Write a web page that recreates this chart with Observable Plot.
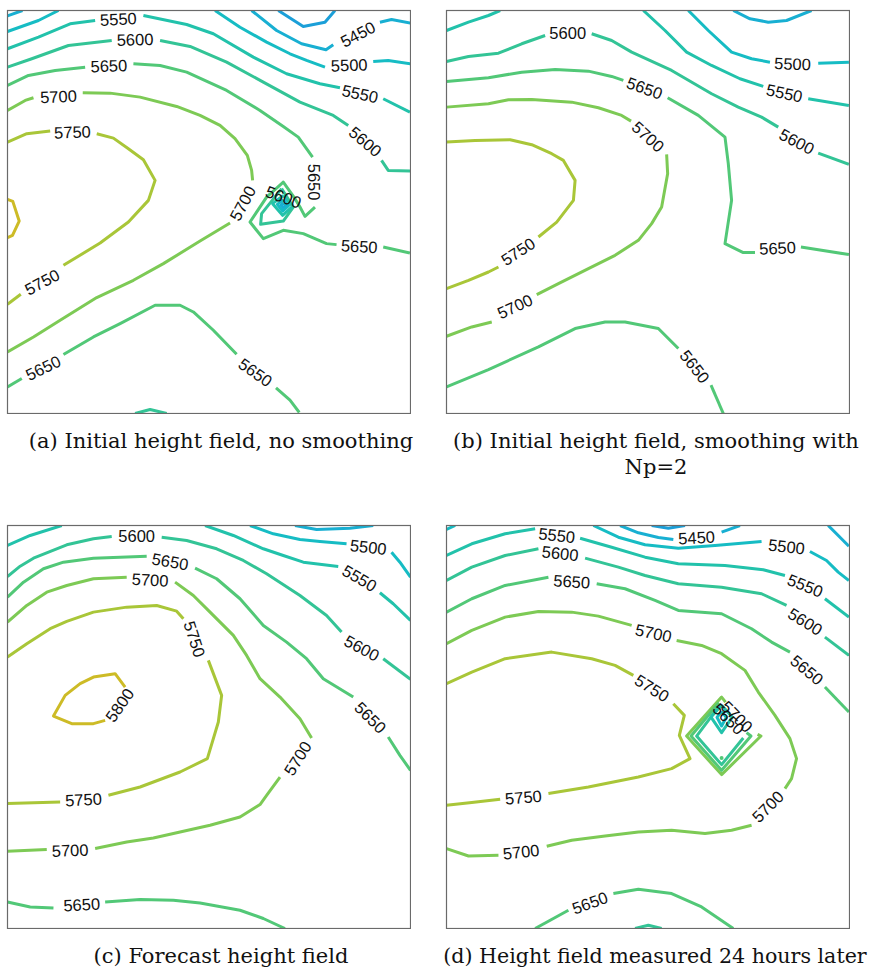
<!DOCTYPE html>
<html>
<head>
<meta charset="utf-8">
<script src="https://cdn.jsdelivr.net/npm/d3@7"></script>
<script src="https://cdn.jsdelivr.net/npm/@observablehq/plot@0.6"></script>
<style>
  html, body { margin: 0; padding: 0; background: #fff; }
  #root { position: relative; width: 875px; height: 968px; overflow: hidden; }
  .panel { position: absolute; }
  .cap { position: absolute; width: 440px; text-align: center; font-family: "DejaVu Serif", serif;
         font-size: 21px; line-height: 26px; color: #111; white-space: nowrap; }
  .cap.narrow { font-size: 20.6px; }
</style>
</head>
<body>
<div id="root"></div>
<script>
// Contour levels and their colours
const levels = [5400, 5450, 5500, 5550, 5600, 5650, 5700, 5750, 5800];
const levelColors = ["#1b9fd8", "#18afd2", "#16bcc4", "#22c2ab", "#33c496", "#52c877", "#7dca55", "#a9c638", "#cdbb26"];

// Panel (a): contour segments [level, [[x, y], ...]] in grid units (0..403, y downward)
const linesA = [
  [5400, [[271,0],[296,16],[317.7,11.7],[327.7,0]]],
  [5450, [[0,5.3],[15,0]]],
  [5450, [[244.3,0],[269.3,20],[294.3,33.3],[318.7,39.3],[326,34.3]]],
  [5450, [[372.7,11.7],[384.3,9],[403.3,12.7]]],
  [5500, [[0,21],[31,10],[51,0]]],
  [5500, [[207.7,0],[232.7,16.7],[259.3,31.7],[282.7,43.3],[299.3,50],[317.7,56.7]]],
  [5500, [[366,51],[381,50],[403.3,53.3]]],
  [5550, [[0,38.3],[31,26.7],[62.7,13.3],[87.7,10]]],
  [5550, [[136,5],[179.3,14],[206,23.3],[246,46.7],[279.3,63.3],[312.7,73.3],[332.7,77.3]]],
  [5550, [[376,88.3],[402.7,101.7]]],
  [5600, [[0,56.7],[24.3,48.3],[61,35],[104.3,30]]],
  [5600, [[152.7,30],[182.7,36],[219.3,51.7],[256,71.7],[292.7,91.7],[326,105],[341,115]]],
  [5600, [[374.3,150],[381,160],[403.3,160.7]]],
  [5650, [[0,75],[21,65],[47.7,60],[77.7,56.7]]],
  [5650, [[126,53.3],[152.7,55],[179.3,61.7],[219.3,80],[252.7,100],[276,116],[291,126.7],[305.3,146.7]]],
  [5650, [[307.7,196.7],[297.7,206],[292.7,196.7],[287.7,188.3],[276,171.7],[259.3,186.7],[242.7,211.7],[256,228.3],[276,220],[296,223.3],[319.3,233.3],[329.3,234.3]]],
  [5650, [[376,236.7],[402.7,242.7]]],
  [5600, [[274.3,178.3],[254.3,203.3],[253.3,214],[276,210.7],[286,196.7],[274.3,178.3]]],
  [5550, [[276,185],[265.3,193.3],[275.3,205],[285.3,196],[276,185]]],
  [5500, [[276,189.3],[270,194],[275.3,200.7],[281.3,195.3],[276,189.3]]],
  [5450, [[276,192.3],[273.7,194.7],[275.7,197.3],[278.3,195],[276,192.3]]],
  [5700, [[0,100],[17.7,90],[26,87.3]]],
  [5700, [[75.3,82.3],[102.7,82.7],[132.7,86.7],[169.3,96],[192.7,105],[212.7,115],[227.7,128.3],[240,145],[244.3,160],[245.3,170]]],
  [5700, [[222.7,212.7],[192.7,230.7],[156,253.3],[126,270],[89.3,287.3],[52.7,310],[26,326.7],[0,341.7]]],
  [5750, [[0,131.7],[19.3,123.3],[42.7,120.7]]],
  [5750, [[89.3,123.3],[106,127.7],[121,138.3],[136,149.3],[147.7,170],[141,190],[121,211.7],[92.7,232.7],[56,255]]],
  [5750, [[13.3,284],[0,294]]],
  [5800, [[0,189],[5.3,191],[11.7,210.7],[5,225],[0,227.3]]],
  [5650, [[0,376.7],[14.3,368.3]]],
  [5650, [[56,344.3],[86,326.7],[112.7,313.3],[147.7,295],[172.7,295],[186,301.7],[206,320],[229.3,344]]],
  [5650, [[268.7,377.7],[282.7,390],[292,402.3]]],
  [5600, [[127.7,403.3],[142.7,399.3],[159.3,403.3]]]
];
// Panel (a): labels [level, x, y, angle]
const labelsA = [
  [5450, 351, 24.3, -28], [5500, 342, 55.3, -2], [5550, 111, 9.3, -3], [5550, 352.7, 84, 12],
  [5600, 127.7, 29.7, -2], [5600, 357.7, 131.7, 40], [5650, 101.5, 56, -2], [5650, 306, 171.7, 90],
  [5650, 352, 236.7, 3], [5700, 51, 86.7, -3], [5700, 236, 193.3, -62], [5750, 65, 122.3, -2],
  [5750, 35, 272.3, -28], [5650, 36, 358.3, -26], [5650, 247.7, 362.7, 35], [5600, 276, 187.3, 20]
];

// Panel (b)
const linesB = [
  [5450, [[287,0],[303.7,8.3],[322,11.7],[340.3,10],[365.3,0]]],
  [5500, [[242,0],[262,20],[285.3,41.7],[305.3,48.3],[323.7,51.7]]],
  [5500, [[372,52.7],[402.7,51.7]]],
  [5550, [[0,20],[22,11.7],[42,5],[53.7,0]]],
  [5550, [[197,0],[218.7,20],[240.3,41.7],[265.3,55],[293.7,68.3],[317,76]]],
  [5550, [[362,88.3],[402.7,95]]],
  [5600, [[0,51],[22,46],[52,42.7],[75.3,33.3],[98.7,25]]],
  [5600, [[145.3,23.3],[165.3,30],[185.3,41.7],[225.3,60],[265.3,83.3],[292,96.7],[315.3,106.7],[332,116.7]]],
  [5600, [[372,142.7],[402.7,154]]],
  [5650, [[0,71],[42,67.3],[75.3,61.7],[108.7,59],[142,60.7],[165.3,66],[177,70]]],
  [5650, [[221.3,87.3],[252,105],[278.7,126.7],[282,153.3],[285.3,190],[278.7,233.3],[297,242.3],[308.7,242.3]]],
  [5650, [[354.7,236.7],[375.3,240],[402.7,244.3]]],
  [5700, [[0,96.7],[42,93.3],[62,89.3],[85.3,89],[125.3,91.7],[152,97.3],[175.3,105],[184.7,110.7]]],
  [5700, [[220.3,144],[221.3,163.3],[215.3,196.7],[205.3,213.3],[192,230],[168.7,245],[142,258.3],[112,273.3],[90.3,284.3]]],
  [5700, [[45.3,311.7],[25.3,316.7],[0,326]]],
  [5750, [[0,131.7],[28.7,130],[63.7,129.3],[85.3,134.3],[105.3,143.3],[117,150],[128.7,170],[127,190],[110.3,211.7],[92,226.7]]],
  [5750, [[52,256.7],[42,261.7],[22,270],[0,278.3]]],
  [5650, [[0,376.7],[42,359.3],[92,336.7],[128.7,318.3],[158.7,311.7],[178.7,311.7],[212,318.3],[232,338.3]]],
  [5650, [[264.7,375],[277,403.3]]]
];
const labelsB = [
  [5500, 346.3, 54, 2], [5550, 338, 83.3, 12], [5600, 121.3, 23.3, 0], [5600, 350.3, 131.7, 28],
  [5650, 198, 78.3, 20], [5650, 331.3, 238.3, -3], [5700, 201.3, 126.7, 42], [5700, 68.7, 296.7, -25],
  [5750, 72, 241.7, -33], [5650, 248, 356.7, 52]
];

// Panel (c)
const linesC = [
  [5450, [[287.7,0],[309.3,4],[342.7,2.7],[366,0]]],
  [5500, [[242.7,0],[266,8.3],[292.7,14],[312.7,16],[339.3,18.3]]],
  [5500, [[384.3,26.7],[392.7,36.7],[403.3,51.7]]],
  [5550, [[0,20],[22.7,10],[54.3,0]]],
  [5550, [[197.7,0],[226,10],[256,23.3],[276,30],[296,36.7],[331,41]]],
  [5550, [[372.7,67.3],[386,78.3],[403.3,95]]],
  [5600, [[0,51],[12.7,40.7],[26,32.7],[59.3,19.3],[86,13.3],[104.3,11]]],
  [5600, [[154.3,11.7],[179.3,15],[209.3,23.3],[236,35],[259.3,48.3],[292.7,70],[319.3,90],[334.3,106.7]]],
  [5600, [[376,133.3],[403.3,154]]],
  [5650, [[0,71.7],[16,56.7],[36,43.3],[56,36.7],[86,32.7],[139.3,30.7]]],
  [5650, [[187.7,42.7],[209.3,53.3],[232.7,73.3],[256,100],[279.3,116.7],[299.3,133.3],[316,153.3],[346,171.7]]],
  [5650, [[381,211.7],[392.7,230],[403.3,245]]],
  [5700, [[0,96.7],[19.3,80],[39.3,66.7],[59.3,60],[86,53.3],[119.3,51.7]]],
  [5700, [[167.7,56.7],[186,70],[202.7,86.7],[226,110],[239.3,130],[252.7,153.3],[272.7,171.7],[292.7,193.3],[304.3,212.7]]],
  [5700, [[272.7,251.7],[259.3,270],[252.7,279.3],[232.7,291.7],[202.7,300],[172.7,306.7],[146,312.7],[119.3,316.7],[87.7,323.3]]],
  [5700, [[39.3,324.3],[0,326]]],
  [5750, [[0,131.7],[19.3,118.3],[42.7,103.3],[59.3,96],[86,86.7],[119.3,81.7],[149.3,80],[169.3,85.7],[176,93.3]]],
  [5750, [[201,135],[214.3,170],[211,196.7],[200,233.3],[172.7,246.7],[132.7,261.7],[101,270]]],
  [5750, [[52.7,276.7],[0,278.3]]],
  [5800, [[117.7,161.7],[107.7,148.3],[86,151.7],[72.7,158.3],[57.7,170],[46,190.7],[64.3,198.3],[86,198.3],[97.7,195]]],
  [5650, [[0,376.7],[22.7,381.7],[46,382.7]]],
  [5650, [[97.7,376.7],[132.7,374.3],[166,375],[192.7,377.7],[232.7,385],[256,393.3],[277.7,403.3]]]
];
const labelsC = [
  [5500, 361, 22.3, 6], [5550, 352, 53.3, 30], [5600, 129.3, 11.7, 0], [5600, 354.3, 123.3, 28],
  [5650, 162.7, 36.7, 10], [5650, 362.7, 192.7, 45], [5700, 142.7, 55, 3], [5700, 291, 233.3, -58],
  [5700, 62.7, 325.7, -2], [5750, 186.7, 114, 72], [5750, 76, 275, -3], [5800, 112.7, 180, -55],
  [5650, 74.3, 380, -3]
];

// Panel (d)
const linesD = [
  [5400, [[205.3,0],[222,2.7],[238.7,0]]],
  [5450, [[173.7,0],[192,7.3],[212,12],[227,14]]],
  [5450, [[275.3,6.7],[293.7,0]]],
  [5450, [[382,0],[402.7,20.7]]],
  [5500, [[0,4],[8.7,0]]],
  [5500, [[147,0],[172,11.7],[198.7,19.3],[232,22.7],[268.7,20],[315.3,16]]],
  [5500, [[363.7,26],[380.3,35],[392,46.7],[402.7,55]]],
  [5550, [[0,30],[25.3,18.3],[58.7,8.3],[88.7,3.3]]],
  [5550, [[133.7,12.7],[165.3,21.7],[198.7,31.7],[232,38.3],[278.7,40],[317,44.3],[338.7,50]]],
  [5550, [[378.7,73.3],[402.7,91.7]]],
  [5600, [[0,55],[25.3,41.7],[58.7,30],[92,23.3]]],
  [5600, [[138.7,32.7],[172,41.7],[198.7,50],[232,58.3],[275.3,61.7],[315.3,68.3],[340.3,80]]],
  [5600, [[378.7,111.7],[402.7,130]]],
  [5650, [[0,86.7],[25.3,73.3],[58.7,60],[102,51.7]]],
  [5650, [[150.3,58.3],[178.7,63.3],[208.7,75],[232,85],[275.3,88.3],[305.3,103.3],[325.3,116.7],[343.7,126.7]]],
  [5650, [[378.7,161.7],[402.7,186.7]]],
  [5700, [[0,118.3],[25.3,105],[58.7,91.7],[92,86],[125.3,86.7],[152,90.7],[185.3,100]]],
  [5700, [[230.3,115],[255.3,120],[275.3,128.3],[298.7,145],[312,166.7],[328.7,190],[343.7,213.3],[350.3,233.3],[345.3,253.3],[338.7,263.3]]],
  [5700, [[305.3,300],[285.3,305],[258.7,308.3],[225.3,305],[192,306.7],[158.7,310.7],[125.3,315],[100.3,321]]],
  [5700, [[52,330],[22,330.7],[0,323.3]]],
  [5750, [[0,158.3],[25.3,146.7],[58.7,133.3],[105.3,126.7],[145.3,133.3],[168.7,140],[187,150]]],
  [5750, [[227,178.3],[238,190],[233,210],[243.7,233.3],[225.3,243.3],[192,251.7],[142,261.7],[102,268.3]]],
  [5750, [[53.7,274],[25.3,277.3],[0,280]]],
  [5650, [[88.7,403.3],[122,385]]],
  [5650, [[167,368.3],[192,364],[225.3,368.3],[255.3,381.7],[287,403.3]]],
  [5600, [[188.7,403.3],[202,400],[215.3,403.3]]],
  [5700, [[279.3,176.7],[275.3,171.7],[240.3,210.7],[275.3,249.3],[314.7,210.7],[311.3,209]]],
  [5650, [[272.7,177.3],[244.7,210.7],[275.3,245],[304.7,210.7],[300.3,207.3]]],
  [5600, [[271.3,182.7],[250.3,210.7],[275.3,239.3],[297,212.7]]],
  [5550, [[275.3,180],[264.7,191.7],[275.3,207.3],[286,191.7],[275.3,180]]],
  [5500, [[275.3,186],[270.7,192],[275.3,200.7],[280,192],[275.3,186]]]
];
const labelsD = [
  [5450, 250.3, 12.7, -3], [5500, 340.3, 21.7, 6], [5550, 110.3, 10.5, 6], [5550, 358.7, 60.7, 22],
  [5600, 113.7, 28.5, 6], [5600, 358.7, 96.7, 32], [5650, 125.3, 56.7, 4], [5650, 360.3, 145, 40],
  [5700, 207, 108.3, 12], [5700, 322, 281.7, -45], [5700, 74.7, 327.3, -6], [5750, 205.3, 163.3, 32],
  [5750, 77, 272.7, -5], [5650, 143.7, 378.3, -20], [5700, 290.3, 191.7, 45], [5650, 282, 194, 45]
];
const dotsD = [[5650, 275.3, 232.7]];

const captions = [
  "(a) Initial height field, no smoothing",
  "(b) Initial height field, smoothing with<br>Np=2",
  "(c) Forecast height field",
  "(d) Height field measured 24 hours later"
];

function makePanel(lines, labels, dots) {
  const rows = lines.flatMap(([level, pts], i) => pts.map(([x, y]) => ({seg: i, level, x, y})));
  const labelRows = labels.map(([level, x, y, angle]) => ({level, x, y, angle}));
  const dotRows = (dots || []).map(([level, x, y]) => ({level, x, y}));
  return Plot.plot({
    width: 405, height: 405, margin: 1,
    x: {domain: [0, 403.3], axis: null},
    y: {domain: [0, 403.3], reverse: true, axis: null},
    color: {type: "ordinal", domain: levels, range: levelColors},
    style: {background: "transparent"},
    marks: [
      Plot.line(rows, {x: "x", y: "y", z: "seg", stroke: "level", strokeWidth: 3,
                       strokeLinejoin: "round", strokeLinecap: "butt", clip: true, curve: "linear"}),
      Plot.dot(dotRows, {x: "x", y: "y", r: 2, fill: "level", stroke: "none"}),
      Plot.text(labelRows, {x: "x", y: "y", text: d => String(d.level), rotate: "angle",
                            fontSize: 16.5, fontFamily: "Liberation Sans, Arial, sans-serif", fill: "#111"}),
      Plot.frame({stroke: "#6a6a6a", strokeWidth: 1.2})
    ]
  });
}

const root = document.getElementById("root");
const panels = [
  [linesA, labelsA, null, 6, 9],
  [linesB, labelsB, null, 445, 9],
  [linesC, labelsC, null, 6, 524],
  [linesD, labelsD, dotsD, 445, 524]
];
panels.forEach(([l, lb, dt, left, top]) => {
  const div = document.createElement("div");
  div.className = "panel";
  div.style.left = left + "px";
  div.style.top = top + "px";
  div.appendChild(makePanel(l, lb, dt));
  root.appendChild(div);
});
const capPos = [[1, 428], [436, 428], [1, 943], [435, 943]];
captions.forEach((t, i) => {
  const c = document.createElement("div");
  c.className = i === 3 ? "cap narrow" : "cap";
  c.style.left = capPos[i][0] + "px";
  c.style.top = capPos[i][1] + "px";
  c.innerHTML = t;
  root.appendChild(c);
});
</script>
</body>
</html>
